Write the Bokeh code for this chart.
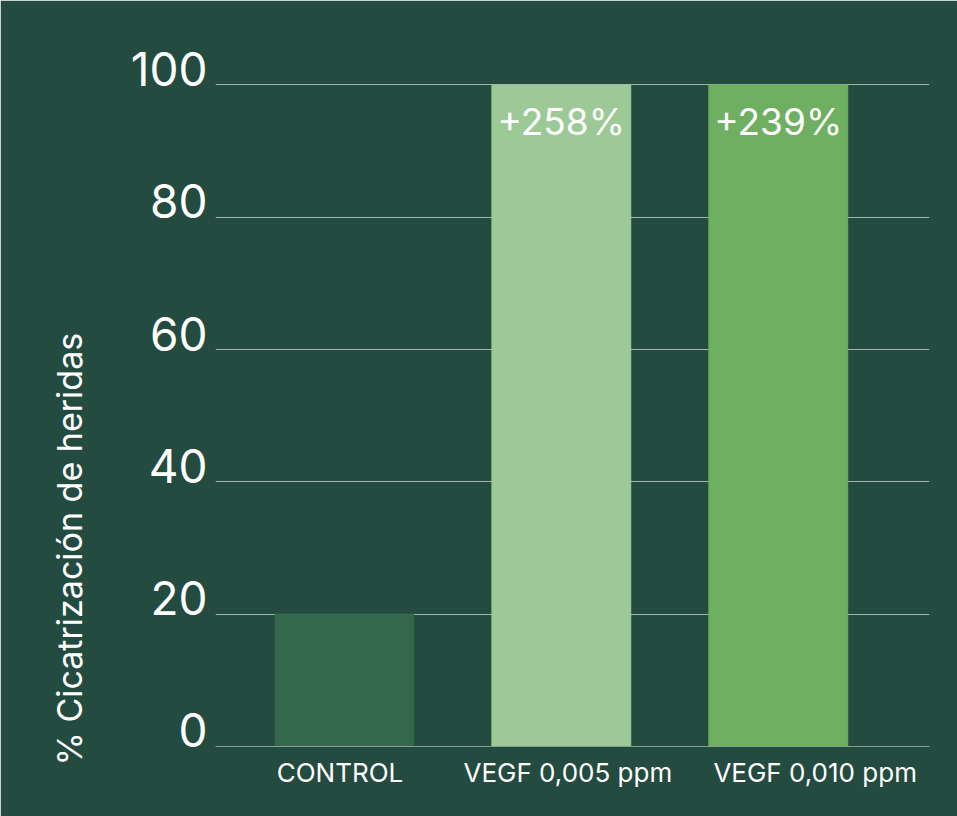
from bokeh.plotting import figure
from bokeh.models import ColumnDataSource, Range1d, FixedTicker, Title
from bokeh.core.properties import value
from bokeh.embed import file_html
from bokeh.resources import INLINE

categories = ["CONTROL", "VEGF 0,005 ppm", "VEGF 0,010 ppm"]
values = [20, 100, 100]
bar_labels = ["", "+258%", "+239%"]
bar_colors = ["#33684c", "#9dc996", "#6eaf62"]
y_ticks = [0, 20, 40, 60, 80, 100]
y_tick_labels = ["0", "20", "40", "60", "80", "100"]
y_title = "% Cicatrización de heridas"

BG = "#244b40"
FONT = "Inter"

# layout / style settings (not data)
label_lift = 2.42                      # lift tick labels so digits sit on the gridline
x_label_nudge = [-0.02, 0.03, 0.17]    # horizontal nudge of category labels

idx = list(range(len(categories)))
src = ColumnDataSource(dict(x=idx, top=values, color=bar_colors, label=bar_labels))

p = figure(width=957, height=816, output_backend="svg", toolbar_location=None,
           x_range=Range1d(-0.594, 2.697), y_range=Range1d(0, 104),
           background_fill_color=BG, border_fill_color=BG,
           min_border_left=215, min_border_right=28, min_border_top=58, min_border_bottom=70)
p.outline_line_color = BG
p.outline_line_alpha = 1
p.outline_line_width = 2

p.vbar(x="x", top="top", bottom=0, width=0.64, color="color", source=src)
p.text(x="x", y="top", text="label", source=src, text_color="white",
       text_font=value(FONT), text_font_size="37px", text_align="center",
       text_baseline="top", y_offset=14)

p.xgrid.grid_line_color = None
p.ygrid.grid_line_color = "#a3b3ad"
p.ygrid.grid_line_width = 1
p.ygrid.ticker = FixedTicker(ticks=y_ticks)

label_pos = [t + label_lift for t in y_ticks]
p.yaxis.ticker = FixedTicker(ticks=label_pos)
p.yaxis.major_label_overrides = {pos: lab for pos, lab in zip(label_pos, y_tick_labels)}
p.yaxis.axis_line_color = None
p.yaxis.major_tick_line_color = None
p.yaxis.minor_tick_line_color = None
p.yaxis.major_label_text_color = "white"
p.yaxis.major_label_text_font = FONT
p.yaxis.major_label_text_font_size = "46px"
p.yaxis.major_label_standoff = 2

title = Title(text=y_title, align="left", offset=-19, standoff=75,
              text_color="white", text_font=FONT, text_font_size="34px",
              text_font_style="normal")
p.add_layout(title, "left")

x_pos = [i + n for i, n in zip(idx, x_label_nudge)]
p.xaxis.ticker = FixedTicker(ticks=x_pos)
p.xaxis.major_label_overrides = {pos: c for pos, c in zip(x_pos, categories)}
p.xaxis.axis_line_color = "#8a9a94"
p.xaxis.axis_line_width = 1
p.xaxis.major_tick_line_color = None
p.xaxis.minor_tick_line_color = None
p.xaxis.major_label_text_color = "white"
p.xaxis.major_label_text_font = FONT
p.xaxis.major_label_text_font_size = "26px"
p.xaxis.major_label_standoff = 4

open("out.html", "w").write(file_html(p, INLINE))
